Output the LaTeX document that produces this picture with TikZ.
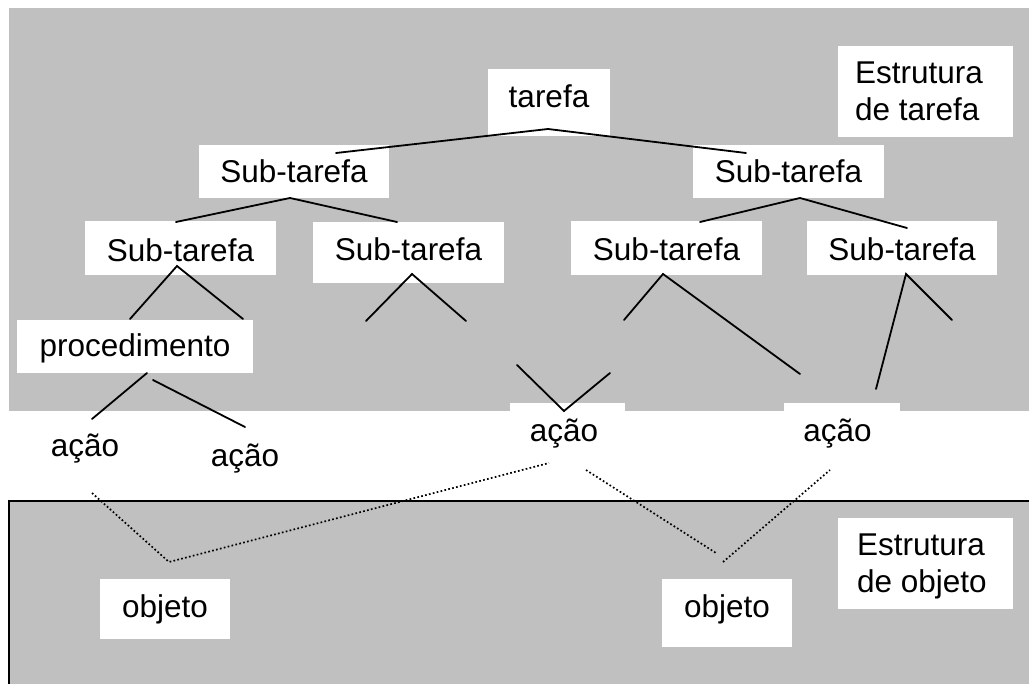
\documentclass[tikz,border=0pt]{standalone}
\usepackage{fontspec}
\setmainfont{Liberation Sans}
\usetikzlibrary{calc}
\definecolor{panel}{RGB}{192,192,192}
% text lowered below the node centre by #1 pt
\newcommand\lowered[2]{\raisebox{-#1pt}{#2}}
\begin{document}
\begin{tikzpicture}[x=1pt,y=-1pt,
  box/.style={fill=white, inner sep=0pt, text height=0pt, text depth=0pt,
              font=\fontsize{31.5}{37}\selectfont},
  tree/.style={line width=1.8pt, line cap=round, line join=miter},
  link/.style={line width=1.7pt, dash pattern=on 1.7pt off 2.3pt}]
\clip (0,0) rectangle (1029,684);
\fill[white] (0,0) rectangle (1029,684);
% task structure panel
\fill[panel] (9,8) rectangle (1040,411);
% object structure panel
\fill[panel] (9,501) rectangle (1040,700);
\draw[line width=2pt] (9,700) -- (9,501) -- (1040,501);

% task hierarchy
\node[box, minimum width=122, minimum height=67] (t) at (549,102.5) {\lowered{5.5}{tarefa}};
\node[box, minimum width=175, minimum height=91] (et) at (925.5,91.5)
  {\hspace*{-13pt}\lowered{29.5}{\begin{tabular}[b]{@{}l@{}}Estrutura\\de tarefa\end{tabular}}};
\node[box, minimum width=190, minimum height=53] (s1) at (294,171.5) {\lowered{11.5}{Sub-tarefa}};
\node[box, minimum width=191, minimum height=53] (s2) at (788.5,171.5) {\lowered{11.5}{Sub-tarefa}};
\node[box, minimum width=191, minimum height=54] (s11) at (180.5,248) {\lowered{14}{Sub-tarefa}};
\node[box, minimum width=191, minimum height=61] (s12) at (408.5,252.5) {\lowered{8.5}{Sub-tarefa}};
\node[box, minimum width=191, minimum height=54] (s21) at (666.5,248) {\lowered{13}{Sub-tarefa}};
\node[box, minimum width=190, minimum height=54] (s22) at (902,248) {\lowered{13}{Sub-tarefa}};
\node[box, minimum width=236, minimum height=53] (proc) at (135,346.5) {\lowered{10.5}{procedimento}};

% actions
\node[box] (a1) at (85,447) {\lowered{10}{ação}};
\node[box] (a2) at (245,455) {\lowered{12}{ação}};
\node[box, minimum width=115, minimum height=60] (a3) at (567.5,433) {\hspace*{-7pt}\lowered{9}{ação}};
\node[box, minimum width=116, minimum height=60] (a4) at (842,433) {\hspace*{-9pt}\lowered{9}{ação}};

% object structure
\node[box, minimum width=130, minimum height=60] (o1) at (165,609) {\lowered{8}{objeto}};
\node[box, minimum width=130, minimum height=68] (o2) at (727,613) {\lowered{4}{objeto}};
\node[box, minimum width=175, minimum height=91] (eo) at (925.5,563.5)
  {\hspace*{-7pt}\lowered{28.5}{\begin{tabular}[b]{@{}l@{}}Estrutura\\de objeto\end{tabular}}};

% tree branches
\draw[tree] ($(s1)+(42,-18.5)$) -- ($(t)+(-1,26.5)$) -- ($(s2)+(-42.5,-18.5)$);
\draw[tree] ($(s11)+(-4.5,-26)$) -- ($(s1)+(-4,26.5)$) -- ($(s12)+(-11.5,-30.5)$);
\draw[tree] ($(s21)+(33.5,-26)$) -- ($(s2)+(11.5,26.5)$) -- ($(s22)+(5,-20)$);
\draw[tree] ($(proc)+(-5,-27.5)$) -- ($(s11)+(-3.5,18)$) -- ($(proc)+(108,-27.5)$);
\draw[tree] ($(s12)+(-42.5,68.5)$) -- ($(s12)+(3.5,21.5)$) -- ($(s12)+(57.5,68.5)$);
\draw[tree] ($(s21)+(-42.5,72)$) -- ($(s21)+(-3.5,26)$) -- ($(s21)+(133.5,126)$);
\draw[tree] ($(s22)+(-26,141)$) -- ($(s22)+(4,26)$) -- ($(s22)+(50,72)$);
\draw[tree] ($(proc)+(12,26.5)$) -- ($(a1)+(7,-28)$);
\draw[tree] ($(proc)+(18,33.5)$) -- ($(a2)+(0,-28)$);
\draw[tree] ($(a3)+(-50.5,-68)$) -- ($(a3)+(-3.5,-22)$) -- ($(a3)+(42.5,-60)$);

% links between actions and objects
\draw[link] ($(a1)+(7,46)$) -- ($(o1)+(4,-47)$) -- ($(a3)+(-18.5,30)$);
\draw[link] ($(a3)+(18.5,37)$) -- ($(o2)+(-11,-60)$);
\draw[link] ($(o2)+(-4,-51)$) -- ($(a4)+(-12,37)$);
\end{tikzpicture}
\end{document}
